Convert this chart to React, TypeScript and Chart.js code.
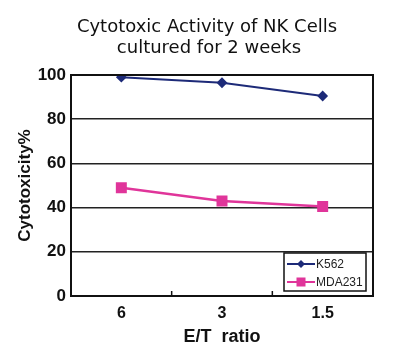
import React, { useEffect, useRef } from "react";
import { Chart, registerables } from "chart.js";

Chart.register(...registerables);

const titleLines = ["Cytotoxic Activity of NK Cells", "cultured for 2 weeks"];
const categories = ["6", "3", "1.5"];
const k562Values = [99, 96.5, 90.5];
const mda231Values = [49, 43, 40.5];
const seriesNames = ["K562", "MDA231"];
const yTitle = "Cytotoxicity%";
const xTitle = "E/T  ratio";

const NAVY = "#1d2a78";
const MAGENTA = "#e0359a";

const framePlugin = {
  id: "framePlugin",
  afterDatasetsDraw(chart: any) {
    const { ctx, chartArea } = chart;
    const { left, right, top, bottom } = chartArea;
    ctx.save();
    ctx.strokeStyle = "#111";
    ctx.lineWidth = 2;
    ctx.strokeRect(left, top, right - left, bottom - top);
    const xs = chart.scales.x;
    ctx.lineWidth = 1.5;
    for (let i = 0; i < categories.length - 1; i++) {
      const px = (xs.getPixelForValue(i) + xs.getPixelForValue(i + 1)) / 2;
      ctx.beginPath();
      ctx.moveTo(px, bottom);
      ctx.lineTo(px, bottom - 5);
      ctx.stroke();
    }
    const lx = right - 89, ly = bottom - 43, lw = 82, lh = 38;
    ctx.fillStyle = "#fff";
    ctx.fillRect(lx, ly, lw, lh);
    ctx.lineWidth = 1.5;
    ctx.strokeStyle = "#111";
    ctx.strokeRect(lx, ly, lw, lh);
    const items = [
      { name: seriesNames[0], color: NAVY, shape: "diamond", y: ly + 11 },
      { name: seriesNames[1], color: MAGENTA, shape: "square", y: ly + 29 },
    ];
    for (const it of items) {
      ctx.strokeStyle = it.color;
      ctx.lineWidth = 2;
      ctx.beginPath();
      ctx.moveTo(lx + 3, it.y);
      ctx.lineTo(lx + 31, it.y);
      ctx.stroke();
      ctx.fillStyle = it.color;
      const cx = lx + 17;
      if (it.shape === "diamond") {
        ctx.beginPath();
        ctx.moveTo(cx, it.y - 4);
        ctx.lineTo(cx + 4, it.y);
        ctx.lineTo(cx, it.y + 4);
        ctx.lineTo(cx - 4, it.y);
        ctx.closePath();
        ctx.fill();
      } else {
        ctx.fillRect(cx - 4.5, it.y - 4.5, 9, 9);
      }
      ctx.fillStyle = "#222";
      ctx.font = "12px 'Liberation Sans', Arial, sans-serif";
      ctx.textAlign = "left";
      ctx.textBaseline = "middle";
      ctx.fillText(it.name, lx + 32, it.y + 1);
    }
    ctx.restore();
  },
  afterDraw(chart: any) {
    const { ctx } = chart;
    ctx.save();
    ctx.fillStyle = "#111";
    ctx.font = "18px 'DejaVu Sans', Verdana, sans-serif";
    ctx.textAlign = "center";
    ctx.textBaseline = "middle";
    ctx.fillText(titleLines[0], 207, 27);
    ctx.fillText(titleLines[1], 209, 48);
    ctx.restore();
  },
};

export default function App() {
  const ref = useRef<HTMLCanvasElement | null>(null);
  useEffect(() => {
    document.body.style.margin = "0";
    const canvas = ref.current!;
    const chart = new Chart(canvas, {
      type: "line",
      data: {
        labels: categories,
        datasets: [
          {
            label: seriesNames[0],
            data: k562Values,
            borderColor: NAVY,
            backgroundColor: NAVY,
            borderWidth: 2,
            pointStyle: "rectRot",
            pointRadius: 4,
            pointHoverRadius: 4,
            tension: 0,
          },
          {
            label: seriesNames[1],
            data: mda231Values,
            borderColor: MAGENTA,
            backgroundColor: MAGENTA,
            borderWidth: 2.5,
            pointStyle: "rect",
            pointRadius: 6,
            pointHoverRadius: 6,
            tension: 0,
          },
        ],
      },
      options: {
        animation: false,
        responsive: false,
        maintainAspectRatio: false,
        layout: { padding: { left: 0, right: 38, top: 75, bottom: 0 } },
        plugins: {
          legend: { display: false },
          title: { display: false },
          tooltip: { enabled: false },
        },
        scales: {
          x: {
            offset: true,
            grid: { display: false, drawTicks: false },
            border: { display: false },
            ticks: {
              color: "#111",
              padding: 8,
              font: { family: "'Liberation Sans', Arial, sans-serif", size: 16, weight: "bold" },
            },
            title: {
              display: true,
              text: xTitle,
              color: "#111",
              padding: { top: 0, bottom: 8 },
              font: { family: "'Liberation Sans', Arial, sans-serif", size: 18, weight: "bold" },
            },
            afterFit(scale: any) {
              scale.height = 60;
            },
          },
          y: {
            min: 0,
            max: 100,
            ticks: {
              stepSize: 20,
              color: "#111",
              padding: 5,
              font: { family: "'Liberation Sans', Arial, sans-serif", size: 17, weight: "bold" },
            },
            grid: { color: "#222", lineWidth: 1.5, drawTicks: false },
            border: { display: false },
            title: {
              display: true,
              text: yTitle,
              color: "#111",
              padding: { top: 15, bottom: 0 },
              font: { family: "'Liberation Sans', Arial, sans-serif", size: 17, weight: "bold" },
            },
            afterFit(scale: any) {
              scale.width = 71;
            },
          },
        },
      },
      plugins: [framePlugin],
    });
    return () => chart.destroy();
  }, []);
  return <canvas ref={ref} width={411} height={356} style={{ display: "block" }} />;
}
